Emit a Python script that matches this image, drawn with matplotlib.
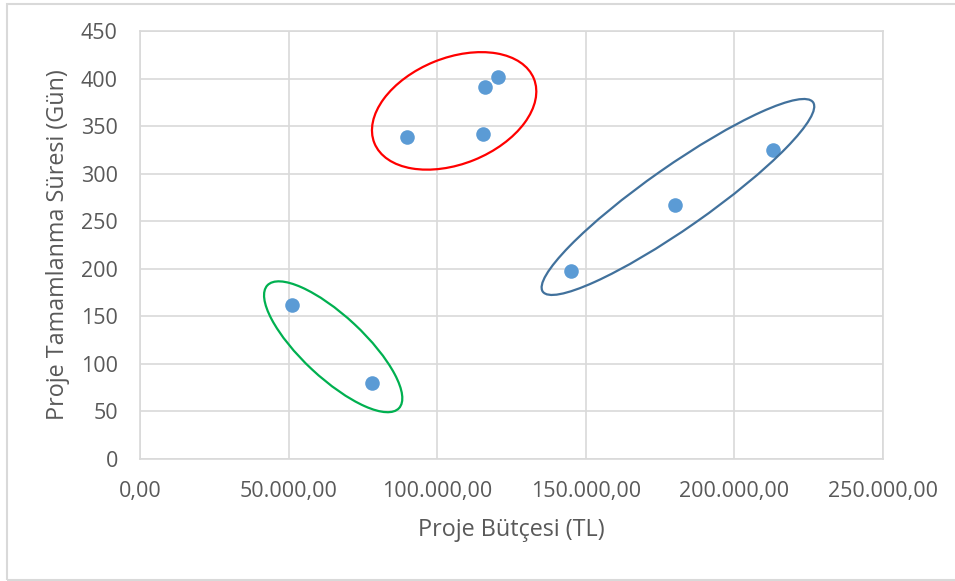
import matplotlib
matplotlib.use("Agg")
import matplotlib.pyplot as plt
import matplotlib.ticker as ticker
import matplotlib.transforms as mtransforms
from matplotlib.patches import Ellipse, Rectangle

# veriler: proje bütçesi (TL) ve tamamlanma süresi (gün)
butce = [51000, 78000, 90000, 115500, 116000, 120500, 145000, 180000, 213000]
sure = [162, 80, 339, 342, 391, 402, 198, 267, 325]

x_ticks = [0, 50000, 100000, 150000, 200000, 250000]
y_ticks = [0, 50, 100, 150, 200, 250, 300, 350, 400, 450]

x_label = "Proje Bütçesi (TL)"
y_label = "Proje Tamamlanma Süresi (Gün)"

# grup halkaları: merkez (veri), genişlik/yükseklik (inç), açı, renk
halkalar = [
    ((105700, 366), 1.72, 1.06, 22, "#FF0000"),
    ((181000, 275.5), 3.30, 0.62, 35, "#41719C"),
    ((65000, 118), 1.80, 0.62, -43, "#00B050"),
]

gri = "#D9D9D9"
yazi = "#595959"
plt.rcParams["font.family"] = ["Open Sans", "DejaVu Sans"]

fig = plt.figure(figsize=(9.55, 5.81), dpi=100)
ax = fig.add_axes([140 / 955, 122 / 581, 743 / 955, 428 / 581])

# dış çerçeve
fig.patches.append(Rectangle((7 / 955, 1 / 581), 1.0, 576 / 581,
                             transform=fig.transFigure, fill=False,
                             edgecolor=gri, linewidth=1.5))

ax.set_xlim(0, 250000)
ax.set_ylim(0, 450)
ax.set_xticks(x_ticks)
ax.set_yticks(y_ticks)


def tr_format(v, pos):
    s = f"{v:,.2f}"
    return s.replace(",", "X").replace(".", ",").replace("X", ".")


ax.xaxis.set_major_formatter(ticker.FuncFormatter(tr_format))
ax.tick_params(length=0, labelsize=15.5, labelcolor=yazi)
ax.tick_params(axis="x", pad=16)
ax.tick_params(axis="y", pad=16)

ax.grid(True, color=gri, linewidth=1.2)
ax.set_axisbelow(True)
for s in ax.spines.values():
    s.set_color(gri)
    s.set_linewidth(1.2)

ax.scatter(butce, sure, s=110, color="#5B9BD5", zorder=3, linewidths=0)

for (cx, cy), w, h, ang, renk in halkalar:
    tr = fig.dpi_scale_trans + mtransforms.ScaledTranslation(cx, cy, ax.transData)
    ax.add_patch(Ellipse((0, 0), w, h, angle=ang, transform=tr, fill=False,
                         edgecolor=renk, linewidth=1.6, zorder=4))

ax.set_xlabel(x_label, fontsize=16.8, color=yazi)
ax.set_ylabel(y_label, fontsize=16.8, color=yazi)
ax.xaxis.label.set_va("center")
ax.xaxis.set_label_coords(0.5, -0.166)
ax.yaxis.label.set_va("center")
ax.yaxis.set_label_coords(-0.110, 0.5)

plt.savefig("out.png", dpi=100)
plt.close()
